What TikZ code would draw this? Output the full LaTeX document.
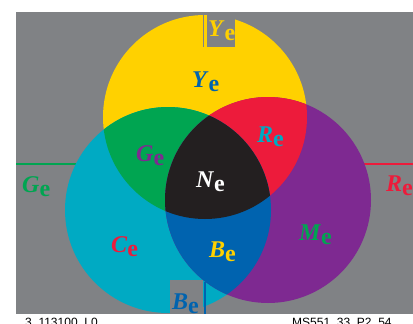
\documentclass[tikz,border=0pt]{standalone}
\usepackage{fontspec}
\setmainfont{Liberation Serif}
\setsansfont{Liberation Sans}
\definecolor{bggray}{RGB}{128,130,133}
\definecolor{cyel}{RGB}{255,209,0}
\definecolor{ccyan}{RGB}{0,170,195}
\definecolor{cmag}{RGB}{126,41,145}
\definecolor{cgreen}{RGB}{0,165,81}
\definecolor{cred}{RGB}{237,27,59}
\definecolor{cblue}{RGB}{0,99,175}
\definecolor{cblack}{RGB}{35,31,32}
\newcommand\elab[1]{\textbf{\textit{#1}}\raisebox{-4pt}{\textbf{e}}}
\begin{document}
\begin{tikzpicture}[x=1pt,y=-1pt,
  lab/.style={anchor=base west, inner sep=0pt, font=\fontsize{24}{24}\selectfont},
  refline/.style={line width=1.8pt},
  foot/.style={anchor=base west, inner sep=0pt, font=\sffamily\fontsize{12}{12}\selectfont}]
\useasboundingbox (0,0) rectangle (413,324);
\clip (0,0) rectangle (413,324);
\fill[bggray] (16,12) rectangle (413,314);
\coordinate (cy) at (205,117);
\coordinate (cc) at (168,210);
\coordinate (cm) at (268,200);
\coordinate (gl) at (16,164);
\coordinate (rl) at (413,164);
\draw[refline, cgreen] (gl) -- (gl -| cc);
\draw[refline, cred] (rl) -- (rl -| cm);
\fill[cyel] (cy) circle[radius=102pt];
\fill[ccyan] (cc) circle[radius=103pt];
\fill[cmag] (cm) circle[radius=103pt];
\begin{scope}
  \clip (cy) circle[radius=102pt];
  \fill[cgreen] (cc) circle[radius=103pt];
  \fill[cred] (cm) circle[radius=103pt];
\end{scope}
\begin{scope}
  \clip (cc) circle[radius=103pt];
  \fill[cblue] (cm) circle[radius=103pt];
  \clip (cm) circle[radius=103pt];
  \fill[cblack] (cy) circle[radius=102pt];
\end{scope}
% top Y box
\coordinate (yb1) at (207,12);
\coordinate (yb2) at (235,47);
\fill[bggray] (yb1) rectangle (yb2);
\coordinate (yl1) at (203.3,12);
\coordinate (yl2) at (203.3,47);
\draw[bggray, line width=1.3pt] (yl1) -- (yl2);
% bottom B box
\coordinate (bb1) at (170,280);
\coordinate (bb2) at (203,314);
\fill[bggray] (bb1) rectangle (bb2);
\coordinate (bl1) at (205,282);
\coordinate (bl2) at (205,314);
\draw[cblue, line width=1.8pt] (bl1) -- (bl2);
% labels
\node[lab, text=cblue] (Yin) at (192,87) {\elab{Y}};
\node[lab, text=cyel] (Yout) at (208,36) {\elab{Y}};
\node[lab, text=cmag] (Gin) at (136,161) {\elab{G}};
\node[lab, text=ccyan] (Rin) at (257,142) {\elab{R}};
\node[lab, text=white] (Nin) at (196,187) {\elab{N}};
\node[lab, text=cred] (Cin) at (111,252) {\elab{C}};
\node[lab, text=cyel] (Bin) at (209,257) {\elab{B}};
\node[lab, text=cgreen] (Min) at (299,240) {\elab{M}};
\node[lab, text=cgreen] (Gout) at (22,192) {\elab{G}};
\node[lab, text=cred] (Rout) at (386,191) {\elab{R}};
\node[lab, text=cblue] (Bout) at (172,309) {\elab{B}};
% footer
\node[foot] (f1) at (25,326) {3\_113100\_L0};
\node[foot] (f2) at (292,326) {MS551\_33\_P2\_54};
\end{tikzpicture}
\end{document}
